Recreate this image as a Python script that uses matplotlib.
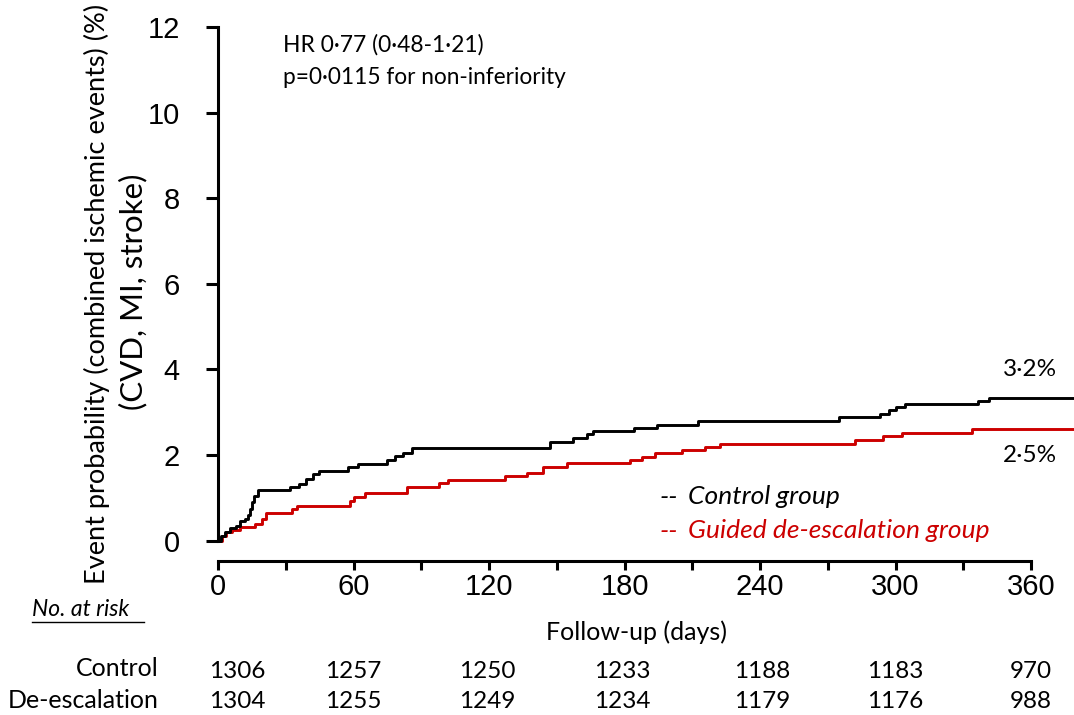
import matplotlib.pyplot as plt
import numpy as np
from matplotlib.lines import Line2D

# Kaplan-Meier style cumulative event curves (days, % with event)
ctrl_days = [0, 1.3, 3, 5.3, 8, 9.7, 12, 13.3, 14.2, 15, 16, 17.7, 32, 36, 39, 42, 44.5,
             57.6, 62, 75, 78.4, 82, 86, 147, 148, 157, 163.4, 166, 184, 194.4, 212.6,
             275, 293, 297, 300, 304, 336.6, 341.5, 379]
ctrl_vals = [0, 0.1, 0.2, 0.3, 0.35, 0.45, 0.5, 0.6, 0.75, 0.9, 1.05, 1.18, 1.26, 1.33, 1.44, 1.56, 1.63,
             1.72, 1.79, 1.89, 1.97, 2.05, 2.17, 2.31, 2.31, 2.41, 2.49, 2.57, 2.63, 2.71, 2.80,
             2.88, 2.95, 3.05, 3.12, 3.19, 3.26, 3.34, 3.34]

deesc_days = [0, 1.8, 3.5, 6.2, 9.7, 16.4, 19.5, 21.3, 32.6, 34.9, 58.5, 60, 65, 83.6, 98, 102,
              127, 137, 144, 154.6, 182.5, 187.8, 193.5, 205.5, 215.7, 222.3,
              282, 294.5, 303, 334, 379]
deesc_vals = [0, 0.1, 0.2, 0.26, 0.33, 0.4, 0.5, 0.65, 0.73, 0.8, 0.92, 1.03, 1.11, 1.26, 1.34, 1.42,
              1.50, 1.57, 1.73, 1.81, 1.88, 1.96, 2.04, 2.12, 2.19, 2.27,
              2.35, 2.44, 2.52, 2.60, 2.60]

risk_days = [0, 60, 120, 180, 240, 300, 360]
risk_control = [1306, 1257, 1250, 1233, 1188, 1183, 970]
risk_deesc = [1304, 1255, 1249, 1234, 1179, 1176, 988]

W, H = 1074, 715
fig = plt.figure(figsize=(W / 100, H / 100), dpi=100)

def px(x, y):
    return x / W, 1 - y / H

ax = fig.add_axes([218 / W, 1 - 540.7 / H, (W - 218) / W, (540.7 - 27) / H])
ax.set_xlim(0, 379)
ax.set_ylim(0, 12)

red = '#cc0000'
ax.step(ctrl_days, ctrl_vals, where='post', color='black', lw=2.1, clip_on=False, zorder=3)
ax.step(deesc_days, deesc_vals, where='post', color=red, lw=2.1, clip_on=False, zorder=2)

for s in ['top', 'right']:
    ax.spines[s].set_visible(False)
ax.spines['left'].set_bounds(0, 12)
ax.spines['left'].set_linewidth(2.2)
ax.spines['bottom'].set_position(('outward', 14.4))
ax.spines['bottom'].set_bounds(0, 360)
ax.spines['bottom'].set_linewidth(2.2)

ax.set_yticks(np.arange(0, 13, 2))
ax.set_xticks(risk_days)
ax.set_xticks(np.arange(30, 360, 60), minor=True)
ax.tick_params(axis='y', direction='out', length=8.6, width=2.2, pad=19)
ax.tick_params(axis='x', which='both', direction='out', length=6.5, width=2.2, pad=2)
for lb in ax.get_yticklabels():
    lb.set_fontfamily('Liberation Sans')
    lb.set_fontsize(21)
for lb in ax.get_xticklabels():
    lb.set_fontfamily('Liberation Sans')
    lb.set_fontsize(21)

txt = 'Lato'
# y label, two lines
fig.text(*px(97, 294), 'Event probability (combined ischemic events) (%)', rotation=90,
         ha='center', va='center', fontsize=19.5, family=txt)
fig.text(*px(133, 292), '(CVD, MI, stroke)', rotation=90,
         ha='center', va='center', fontsize=22.5, family=txt)

fig.text(*px(283, 45), 'HR 0\u00b777 (0\u00b748-1\u00b721)', ha='left', va='center', fontsize=16.4, family=txt)
fig.text(*px(283, 78), 'p=0\u00b70115 for non-inferiority', ha='left', va='center', fontsize=16.3, family=txt)

fig.text(*px(1003, 370), '3\u00b72%', ha='left', va='center', fontsize=17.5, family=txt)
fig.text(*px(1003, 455), '2\u00b75%', ha='left', va='center', fontsize=17.5, family=txt)

fig.text(*px(660, 497), '--', ha='left', va='center', fontsize=19, family=txt, style='italic', color='black')
fig.text(*px(688, 497), 'Control group', ha='left', va='center', fontsize=19,
         family=txt, style='italic', color='black')
fig.text(*px(660, 531), '--', ha='left', va='center', fontsize=19, family=txt, style='italic', color=red)
fig.text(*px(688, 531), 'Guided de-escalation group', ha='left', va='center', fontsize=19,
         family=txt, style='italic', color=red)

# number at risk table
fig.text(*px(32, 609), 'No. at risk', ha='left', va='center', fontsize=16.5, family=txt, style='italic')
fig.add_artist(Line2D([32 / W, 144 / W], [1 - 622 / H, 1 - 622 / H], color='black', lw=1))
fig.text(*px(636, 632), 'Follow-up (days)', ha='center', va='center', fontsize=18, family=txt)
fig.text(*px(159, 669), 'Control', ha='right', va='center', fontsize=18, family=txt)
fig.text(*px(159, 701), 'De-escalation', ha='right', va='center', fontsize=18, family=txt)

col_x = [237, 353, 487, 622, 762, 895, 1031]
for cx, a, b in zip(col_x, risk_control, risk_deesc):
    fig.text(*px(cx, 671), str(a), ha='center', va='center', fontsize=17.5, family=txt)
    fig.text(*px(cx, 702), str(b), ha='center', va='center', fontsize=17.5, family=txt)

fig.savefig('out.png', dpi=100)
